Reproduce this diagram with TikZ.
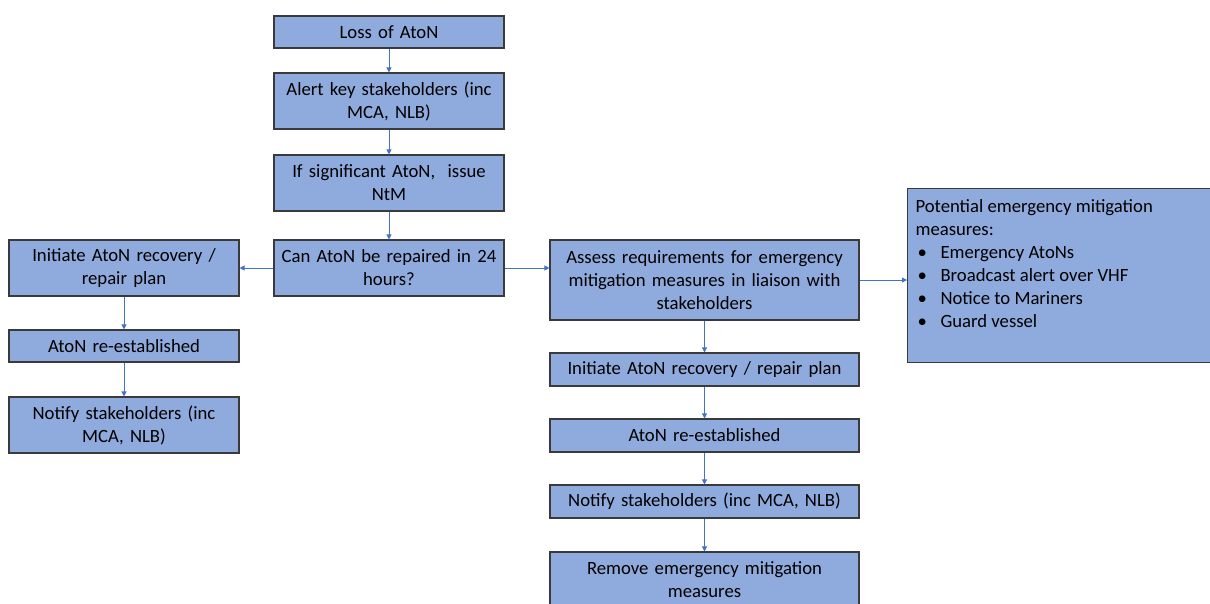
\documentclass[tikz,border=0pt]{standalone}
\usepackage{fontspec}
\setmainfont{Carlito}
\usetikzlibrary{arrows.meta}
\definecolor{boxfill}{HTML}{8FAADC}
\definecolor{boxline}{HTML}{3A3A3A}
\definecolor{arrowc}{HTML}{4472C4}
\begin{document}
\begin{tikzpicture}[x=1pt,y=-1pt,
  box/.style={draw=boxline, fill=boxfill, line width=1.1pt, rectangle, align=center,
    inner xsep=0pt, inner ysep=0pt, font=\fontsize{18.7}{23}\selectfont, text=black},
  flow/.style={draw=arrowc, line width=0.8pt, -{Triangle[width=5pt,length=5pt]}}]
\useasboundingbox (0,0) rectangle (1210,604);
\node[box, text width=226pt, minimum width=230pt, minimum height=32pt] (loss) at (389,32) {Loss of AtoN};
\node[box, text width=226pt, minimum width=230pt, minimum height=56pt] (alert) at (389,101) {Alert key stakeholders (inc\\MCA, NLB)};
\node[box, text width=226pt, minimum width=230pt, minimum height=56pt] (sig) at (389,183) {If significant AtoN,~ issue\\NtM};
\node[box, text width=226pt, minimum width=230pt, minimum height=56pt] (can) at (389,268) {Can AtoN be repaired in 24\\hours?};
\node[box, text width=226pt, minimum width=230pt, minimum height=56pt] (linit) at (124,268) {Initiate AtoN recovery /\\repair plan};
\node[box, text width=226pt, minimum width=230pt, minimum height=32pt] (lre) at (124,346) {AtoN re-established};
\node[box, text width=226pt, minimum width=230pt, minimum height=56pt] (lnot) at (124,425) {Notify stakeholders (inc\\MCA, NLB)};
\node[box, text width=305pt, minimum width=309pt, minimum height=80pt] (assess) at (704.5,280) {Assess requirements for emergency\\mitigation measures in liaison with\\stakeholders};
\node[box, text width=305pt, minimum width=309pt, minimum height=33pt] (rinit) at (704.5,369.5) {Initiate AtoN recovery / repair plan};
\node[box, text width=305pt, minimum width=309pt, minimum height=33pt] (rre) at (704.5,435.5) {AtoN re-established};
\node[box, text width=305pt, minimum width=309pt, minimum height=33pt] (rnot) at (704.5,501.5) {Notify stakeholders (inc MCA, NLB)};
\node[box, text width=305pt, minimum width=309pt, minimum height=56pt] (remove) at (704.5,580) {Remove emergency mitigation\\measures};
\node[box, anchor=north west, align=left, inner xsep=8pt, inner ysep=11pt] (pot) at (907,188)
  {\parbox[c][152pt][t]{287pt}{\raggedright
   Potential emergency mitigation\\
   measures:\\
   \hspace*{2pt}\makebox[23pt][l]{\textbullet}Emergency AtoNs\\
   \hspace*{2pt}\makebox[23pt][l]{\textbullet}Broadcast alert over VHF\\
   \hspace*{2pt}\makebox[23pt][l]{\textbullet}Notice to Mariners\\
   \hspace*{2pt}\makebox[23pt][l]{\textbullet}Guard vessel}};
\draw[flow] (loss) -- (alert);
\draw[flow] (alert) -- (sig);
\draw[flow] (sig) -- (can);
\draw[flow] (can.west) -- (linit.east);
\draw[flow] (can.east) -- (can.east -| assess.west);
\draw[flow] (linit) -- (lre);
\draw[flow] (lre) -- (lnot);
\draw[flow] (assess.east) -- (assess.east -| pot.west);
\draw[flow] (assess) -- (rinit);
\draw[flow] (rinit) -- (rre);
\draw[flow] (rre) -- (rnot);
\draw[flow] (rnot) -- (remove);
\end{tikzpicture}
\end{document}
